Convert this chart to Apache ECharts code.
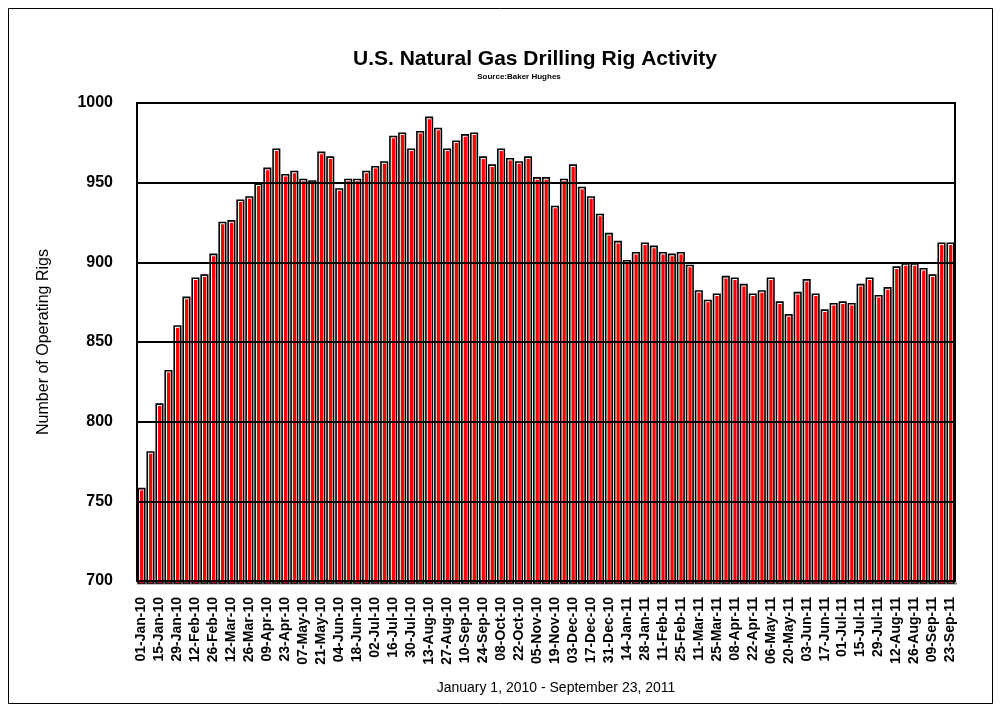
<!DOCTYPE html>
<html>
<head>
<meta charset="utf-8">
<script src="https://cdn.jsdelivr.net/npm/echarts@6/dist/echarts.min.js"></script>
<style>
html,body{margin:0;padding:0;background:#fff;}
#chart{width:1001px;height:712px;}
</style>
</head>
<body>
<div id="chart"></div>
<script>
const categories = [
 '01-Jan-10','08-Jan-10','15-Jan-10','22-Jan-10','29-Jan-10','05-Feb-10','12-Feb-10','19-Feb-10','26-Feb-10',
 '05-Mar-10','12-Mar-10','19-Mar-10','26-Mar-10','02-Apr-10','09-Apr-10','16-Apr-10','23-Apr-10','30-Apr-10',
 '07-May-10','14-May-10','21-May-10','28-May-10','04-Jun-10','11-Jun-10','18-Jun-10','25-Jun-10','02-Jul-10',
 '09-Jul-10','16-Jul-10','23-Jul-10','30-Jul-10','06-Aug-10','13-Aug-10','20-Aug-10','27-Aug-10','03-Sep-10',
 '10-Sep-10','17-Sep-10','24-Sep-10','01-Oct-10','08-Oct-10','15-Oct-10','22-Oct-10','29-Oct-10','05-Nov-10',
 '12-Nov-10','19-Nov-10','26-Nov-10','03-Dec-10','10-Dec-10','17-Dec-10','24-Dec-10','31-Dec-10',
 '07-Jan-11','14-Jan-11','21-Jan-11','28-Jan-11','04-Feb-11','11-Feb-11','18-Feb-11','25-Feb-11','04-Mar-11',
 '11-Mar-11','18-Mar-11','25-Mar-11','01-Apr-11','08-Apr-11','15-Apr-11','22-Apr-11','29-Apr-11','06-May-11',
 '13-May-11','20-May-11','27-May-11','03-Jun-11','10-Jun-11','17-Jun-11','24-Jun-11','01-Jul-11','08-Jul-11',
 '15-Jul-11','22-Jul-11','29-Jul-11','05-Aug-11','12-Aug-11','19-Aug-11','26-Aug-11','02-Sep-11','09-Sep-11',
 '16-Sep-11','23-Sep-11'
];
const rigCounts = [
 758,781,811,832,860,878,890,892,905,925,926,939,941,949,959,971,955,957,952,951,
 969,966,946,952,952,957,960,963,979,981,971,982,991,984,971,976,980,981,966,961,
 971,965,963,966,953,953,935,952,961,947,941,930,918,913,901,906,912,910,906,905,
 906,898,882,876,880,891,890,886,880,882,890,875,867,881,889,880,870,874,875,874,
 886,890,879,884,897,899,899,896,892,912,912
];
const yMin = 700, yMax = 1000, yStep = 50;
const titleText = 'U.S. Natural Gas Drilling Rig Activity';
const subtitleText = 'Source:Baker Hughes';
const yAxisTitle = 'Number of Operating Rigs';
const xAxisTitle = 'January 1, 2010 - September 23, 2011';

const FONT = '"Liberation Sans", Arial, sans-serif';
const chart = echarts.init(document.getElementById('chart'));

function renderBar(params, api) {
  const idx = api.value(0);
  const top = api.coord([idx, api.value(1)]);
  const base = api.coord([idx, yMin]);
  const band = api.size([1, 0])[0];
  const w = band * 0.72;
  const x = top[0] - w / 2;
  const h = base[1] - top[1];
  return {
    type: 'group',
    children: [
      { type: 'rect', shape: { x: x, y: top[1], width: w, height: h + 2 },
        style: { fill: '#ffffff', stroke: '#000000', lineWidth: 1.6 } },
      { type: 'rect', shape: { x: x + 1.8, y: top[1] + 1.8, width: Math.max(w - 3.2, 1), height: h },
        style: { fill: '#ff0000' } }
    ]
  };
}

chart.setOption({
  backgroundColor: '#ffffff',
  animation: false,
  title: [
    { text: titleText, left: 530, top: 44, textAlign: 'center',
      textStyle: { fontFamily: FONT, fontSize: 21, fontWeight: 'bold', color: '#000' } },
    { text: subtitleText, left: 514, top: 68, textAlign: 'center',
      textStyle: { fontFamily: FONT, fontSize: 8, fontWeight: 'bold', color: '#000' } }
  ],
  grid: { left: 137, top: 103, width: 818, height: 478, show: true,
          borderColor: '#000', borderWidth: 2, backgroundColor: 'transparent' },
  xAxis: {
    type: 'category', data: categories, z: 10,
    axisLine: { show: true, lineStyle: { color: '#000', width: 2 } },
    axisTick: { show: false },
    axisLabel: { interval: 1, rotate: 90, margin: 16, color: '#000',
      fontFamily: FONT, fontSize: 14, fontWeight: 'bold' },
    splitLine: { show: false }
  },
  yAxis: {
    type: 'value', min: yMin, max: yMax, interval: yStep, z: 10,
    name: yAxisTitle, nameLocation: 'middle', nameGap: 85, nameRotate: 90,
    nameTextStyle: { fontFamily: FONT, fontSize: 16, color: '#000' },
    axisLine: { show: true, lineStyle: { color: '#000', width: 2 } },
    axisTick: { show: false },
    axisLabel: { margin: 24, color: '#000', fontFamily: FONT, fontSize: 16, fontWeight: 'bold',
      formatter: function (v) { return String(v); } },
    splitLine: { show: true, lineStyle: { color: '#000', width: 2 } }
  },
  graphic: [
    { type: 'rect', shape: { x: 8.5, y: 8.5, width: 984, height: 695 },
      style: { fill: 'none', stroke: '#000', lineWidth: 1 }, silent: true, z: -10 },
    { type: 'line', shape: { x1: 137, y1: 583.5, x2: 957, y2: 583.5 },
      style: { stroke: '#808080', lineWidth: 2 }, silent: true },
    { type: 'text', x: 556, y: 688, silent: true,
      style: { text: xAxisTitle, textAlign: 'center', textVerticalAlign: 'middle',
        fontFamily: FONT, fontSize: 14, fill: '#000' } }
  ],
  series: [{
    type: 'custom', renderItem: renderBar, z: 1,
    encode: { x: 0, y: 1 },
    data: rigCounts.map((v, i) => [i, v])
  }]
});
</script>
</body>
</html>
